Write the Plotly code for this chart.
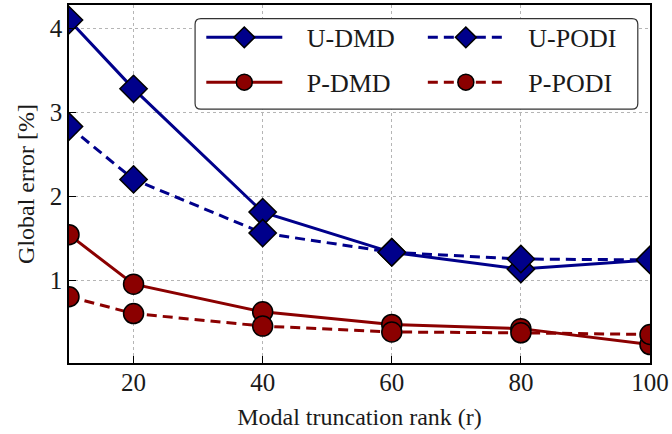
import plotly.graph_objects as go

# Modal truncation rank
ranks = [10, 20, 40, 60, 80, 100]

# Global error [%] for each reduced-order model
u_dmd = [4.10, 3.28, 1.81, 1.33, 1.13, 1.24]
u_podi = [2.83, 2.20, 1.56, 1.33, 1.25, 1.24]
p_dmd = [1.54, 0.95, 0.62, 0.47, 0.42, 0.23]
p_podi = [0.80, 0.60, 0.45, 0.38, 0.37, 0.35]

x_ticks = [20, 40, 60, 80, 100]
y_ticks = [1, 2, 3, 4]

BLUE = "#00008B"
RED = "#8B0000"
FONT = "Times New Roman, Liberation Serif, serif"
TXT = "#1a1a1a"
GAP = "\u00a0" * 3  # spacing between legend glyph and its label

fig = go.Figure()


def add_series(name, y, color, symbol, size, dash, legend):
    fig.add_trace(go.Scatter(
        x=ranks, y=y, name=GAP + name, mode="lines+markers",
        line=dict(color=color, width=3, dash=dash),
        marker=dict(symbol=symbol, size=size, color=color,
                    line=dict(color="black", width=1.5)),
        legend=legend, legendgroup=name,
    ))


add_series("U-DMD", u_dmd, BLUE, "diamond", 21, "solid", "legend")
add_series("U-PODI", u_podi, BLUE, "diamond", 21, "10px,6px", "legend2")
add_series("P-DMD", p_dmd, RED, "circle", 20, "solid", "legend")
add_series("P-PODI", p_podi, RED, "circle", 20, "10px,6px", "legend2")

axis_common = dict(
    showline=True, linecolor="black", linewidth=1.6, mirror=True,
    ticks="inside", ticklen=7, tickwidth=1.2, tickcolor="black",
    showgrid=True, gridcolor="#b5b5b5", gridwidth=1, griddash="dot",
    zeroline=False,
    tickfont=dict(family=FONT, size=25, color=TXT),
)

fig.update_xaxes(
    range=[10, 100], tickvals=x_ticks, ticktext=[str(v) for v in x_ticks],
    ticklabelstandoff=-4,
    title=dict(text="Modal truncation rank (r)", standoff=13,
               font=dict(family=FONT, size=24, color=TXT)),
    **axis_common,
)
fig.update_yaxes(
    range=[0.01, 4.28], tickvals=y_ticks, ticktext=[str(v) for v in y_ticks],
    title=dict(text="Global error [%]", standoff=8,
               font=dict(family=FONT, size=24, color=TXT)),
    **axis_common,
)

legend_common = dict(
    xanchor="left", yanchor="top", bgcolor="rgba(0,0,0,0)",
    borderwidth=0, tracegroupgap=8, itemwidth=76,
    font=dict(family=FONT, size=26, color=TXT),
)

# Rounded legend frame, in paper coordinates of the plot area
x0, x1, y0, y1 = 0.217, 0.979, 0.709, 0.962
rx, ry = 0.010, 0.016
frame = (
    f"M{x0 + rx},{y1} L{x1 - rx},{y1} Q{x1},{y1} {x1},{y1 - ry} "
    f"L{x1},{y0 + ry} Q{x1},{y0} {x1 - rx},{y0} "
    f"L{x0 + rx},{y0} Q{x0},{y0} {x0},{y0 + ry} "
    f"L{x0},{y1 - ry} Q{x0},{y1} {x0 + rx},{y1} Z"
)

fig.update_layout(
    width=672, height=434,
    margin=dict(l=69, r=21, t=3, b=71),
    paper_bgcolor="white", plot_bgcolor="white",
    font=dict(family=FONT, color=TXT),
    legend=dict(x=0.2277, y=0.975, **legend_common),
    legend2=dict(x=0.609, y=0.975, **legend_common),
    shapes=[dict(type="path", path=frame, xref="paper", yref="paper",
                 line=dict(color="#333333", width=1.2),
                 fillcolor="white", layer="above")],
)

fig.write_html("out.html")
